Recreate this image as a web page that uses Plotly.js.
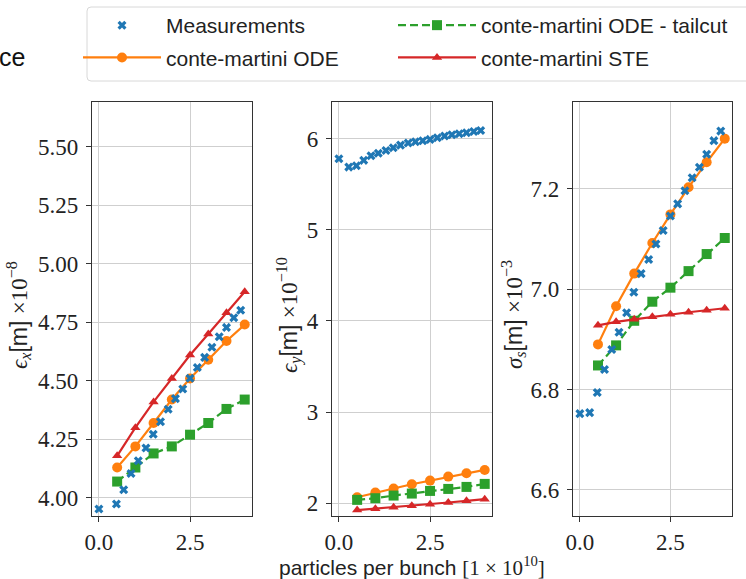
<!DOCTYPE html>
<html>
<head>
<meta charset="utf-8">
<script src="https://cdn.plot.ly/plotly-3.0.1.min.js"></script>
<style>html,body{margin:0;padding:0;background:#fff;}#chart{width:746px;height:579px;}</style>
</head>
<body>
<div id="chart"></div>
<script>
// Measurements (x in units of 1e10 particles per bunch)
const measX = [0, 0.27, 0.48, 0.68, 0.88, 1.08, 1.29, 1.49, 1.69, 1.90, 2.10, 2.30, 2.50, 2.70, 2.90, 3.10, 3.30, 3.50, 3.70, 3.89];
const epsXMeas = [3.953, null, 3.974, 4.035, 4.104, 4.159, 4.213, 4.272, 4.325, 4.379, 4.424, 4.465, 4.511, 4.557, 4.600, 4.643, 4.688, 4.728, 4.769, 4.801];
const epsYMeas = [5.777, 5.686, 5.700, 5.760, 5.810, 5.839, 5.869, 5.898, 5.927, 5.950, 5.965, 5.975, 5.990, 6.007, 6.026, 6.040, 6.051, 6.062, 6.077, 6.088];
const sigSMeas = [6.752, 6.754, 6.794, 6.840, 6.880, 6.914, 6.953, 6.994, 7.031, 7.059, 7.090, 7.117, 7.146, 7.170, 7.196, 7.222, 7.243, 7.269, 7.296, 7.315];

// Models
const modelX = [0.5, 1.0, 1.5, 2.0, 2.5, 3.0, 3.5, 4.0];
const epsXODE  = [4.13, 4.22, 4.32, 4.42, 4.51, 4.59, 4.67, 4.74];
const epsXTail = [4.07, 4.13, 4.19, 4.22, 4.27, 4.32, 4.38, 4.42];
const epsXSTE  = [4.18, 4.30, 4.41, 4.51, 4.61, 4.70, 4.79, 4.88];
const epsYODE  = [2.066, 2.117, 2.161, 2.208, 2.248, 2.292, 2.329, 2.365];
const epsYTail = [2.037, 2.055, 2.084, 2.106, 2.135, 2.157, 2.179, 2.212];
const epsYSTE  = [1.925, 1.940, 1.955, 1.973, 1.990, 2.008, 2.026, 2.044];
const sigSODE  = [6.890, 6.966, 7.031, 7.092, 7.149, 7.203, 7.253, 7.300];
const sigSTail = [6.848, 6.888, 6.937, 6.975, 7.003, 7.036, 7.070, 7.102];
const sigSSTE  = [6.928, 6.935, 6.940, 6.945, 6.950, 6.954, 6.958, 6.962];

const names = ['Measurements', 'conte-martini ODE', 'conte-martini ODE - tailcut', 'conte-martini STE'];
const xTicks = [0, 2.5];
const y1Ticks = [4.00, 4.25, 4.50, 4.75, 5.00, 5.25, 5.50];
const y2Ticks = [2, 3, 4, 5, 6];
const y3Ticks = [6.6, 6.8, 7.0, 7.2];

const C = {blue: '#1f77b4', orange: '#ff7f0e', green: '#2ca02c', red: '#d62728'};
const panels = [
  {meas: epsXMeas, ode: epsXODE, tail: epsXTail, ste: epsXSTE},
  {meas: epsYMeas, ode: epsYODE, tail: epsYTail, ste: epsYSTE},
  {meas: sigSMeas, ode: sigSODE, tail: sigSTail, ste: sigSSTE}
];

const traces = [];
panels.forEach((p, i) => {
  const xa = i === 0 ? 'x' : 'x' + (i + 1);
  const ya = i === 0 ? 'y' : 'y' + (i + 1);
  const show = i === 0;
  traces.push({x: modelX, y: p.ode, xaxis: xa, yaxis: ya, name: names[1], mode: 'lines+markers',
    line: {color: C.orange, width: 2.2}, marker: {symbol: 'circle', size: 10, color: C.orange},
    showlegend: show, legend: 'legend', legendrank: 2, legendgroup: 'b'});
  traces.push({x: modelX, y: p.tail, xaxis: xa, yaxis: ya, name: names[2], mode: 'lines+markers',
    line: {color: C.green, width: 2.2, dash: '8px,4px'}, marker: {symbol: 'square', size: 10, color: C.green},
    showlegend: show, legend: 'legend2', legendrank: 1, legendgroup: 'c'});
  traces.push({x: modelX, y: p.ste, xaxis: xa, yaxis: ya, name: names[3], mode: 'lines+markers',
    line: {color: C.red, width: 2.2}, marker: {symbol: 'triangle-up', size: 9, color: C.red},
    showlegend: show, legend: 'legend2', legendrank: 2, legendgroup: 'd'});
  traces.push({x: measX, y: p.meas, xaxis: xa, yaxis: ya, name: names[0], mode: 'markers',
    marker: {symbol: 'x', size: 8, color: C.blue, line: {width: 0}},
    showlegend: show, legend: 'legend', legendrank: 1, legendgroup: 'a'});
});

const W = 746, H = 579;
const px = v => v / W;
const py = v => 1 - v / H;
const yDom = [py(516), py(102)];

const serif = 'Liberation Serif';
const sans = 'Liberation Sans';

function xaxis(dom, anchor) {
  return {domain: dom, anchor: anchor, range: [-0.19, 4.2], tickvals: xTicks, ticktext: xTicks.map(v => v.toFixed(1)),
    showgrid: true, gridcolor: '#cfcfcf', gridwidth: 1, zeroline: false,
    showline: true, mirror: true, linecolor: '#333', linewidth: 1.2,
    ticks: 'outside', ticklen: 5, tickcolor: '#333', tickwidth: 1,
    tickfont: {family: serif, size: 23, color: '#222'}, ticklabelstandoff: 0, automargin: false, fixedrange: true};
}
function yaxis(range, vals, dec, anchor) {
  return {domain: yDom, anchor: anchor, range: range, tickvals: vals, ticktext: vals.map(v => v.toFixed(dec)),
    showgrid: true, gridcolor: '#cfcfcf', gridwidth: 1, zeroline: false,
    showline: true, mirror: true, linecolor: '#333', linewidth: 1.2,
    ticks: 'outside', ticklen: 5, tickcolor: '#333', tickwidth: 1,
    tickfont: {family: serif, size: 23, color: '#222'}, ticklabelstandoff: 3, automargin: false, fixedrange: true};
}

const sp = s => '<span style="font-family:' + serif + '">' + s + '</span>';

const layout = {
  width: W, height: H,
  margin: {l: 0, r: 0, t: 0, b: 0},
  paper_bgcolor: '#fff', plot_bgcolor: '#fff',
  font: {family: sans, color: '#222'},
  xaxis: xaxis([px(92), px(252)], 'y'),
  xaxis2: xaxis([px(332), px(492)], 'y2'),
  xaxis3: xaxis([px(573), px(732)], 'y3'),
  yaxis: yaxis([3.923, 5.69], y1Ticks, 2, 'x'),
  yaxis2: yaxis([1.86, 6.40], y2Ticks, 0, 'x2'),
  yaxis3: yaxis([6.548, 7.373], y3Ticks, 1, 'x3'),
  legend: {x: px(78), y: py(5), xanchor: 'left', yanchor: 'top', orientation: 'v',
    bgcolor: 'rgba(0,0,0,0)', borderwidth: 0, font: {family: sans, size: 21, color: '#222'},
    itemwidth: 78, traceorder: 'grouped', tracegroupgap: 2},
  legend2: {x: px(393), y: py(5), xanchor: 'left', yanchor: 'top', orientation: 'v',
    bgcolor: 'rgba(0,0,0,0)', borderwidth: 0, font: {family: sans, size: 21, color: '#222'},
    itemwidth: 78, traceorder: 'grouped', tracegroupgap: 2},
  shapes: [{type: 'path', xref: 'paper', yref: 'paper',
    path: 'M ' + px(91) + ' ' + py(7) + ' L ' + px(760) + ' ' + py(7) + ' L ' + px(760) + ' ' + py(81) +
          ' L ' + px(91) + ' ' + py(81) + ' Q ' + px(87) + ' ' + py(81) + ' ' + px(87) + ' ' + py(77) +
          ' L ' + px(87) + ' ' + py(11) + ' Q ' + px(87) + ' ' + py(7) + ' ' + px(91) + ' ' + py(7) + ' Z',
    line: {color: '#d8d8d8', width: 1}, fillcolor: 'rgba(255,255,255,0.8)', layer: 'below'}],
  annotations: [
    {xref: 'paper', yref: 'paper', x: px(27), y: py(57), xanchor: 'right', yanchor: 'middle',
     text: 'ce', showarrow: false, font: {family: sans, size: 25, color: '#111'}},
    {xref: 'paper', yref: 'paper', x: px(18), y: py(315), textangle: -90, xanchor: 'center', yanchor: 'middle',
     text: sp('<i>ϵ</i><sub><i>x</i></sub>') + '[m] ' + sp('×10<sup>−8</sup>'), showarrow: false,
     font: {family: sans, size: 23, color: '#222'}},
    {xref: 'paper', yref: 'paper', x: px(289), y: py(315), textangle: -90, xanchor: 'center', yanchor: 'middle',
     text: sp('<i>ϵ</i><sub><i>y</i></sub>') + '[m] ' + sp('×10<sup>−10</sup>'), showarrow: false,
     font: {family: sans, size: 23, color: '#222'}},
    {xref: 'paper', yref: 'paper', x: px(513), y: py(315), textangle: -90, xanchor: 'center', yanchor: 'middle',
     text: sp('<i>σ</i><sub><i>s</i></sub>') + '[m] ' + sp('×10<sup>−3</sup>'), showarrow: false,
     font: {family: sans, size: 23, color: '#222'}},
    {xref: 'paper', yref: 'paper', x: px(412), y: py(566), xanchor: 'center', yanchor: 'middle',
     text: 'particles per bunch ' + sp('[1 × 10<sup>10</sup>]'), showarrow: false,
     font: {family: sans, size: 21, color: '#222'}}
  ]
};

Plotly.newPlot('chart', traces, layout, {displayModeBar: false, staticPlot: true});
</script>
</body>
</html>
